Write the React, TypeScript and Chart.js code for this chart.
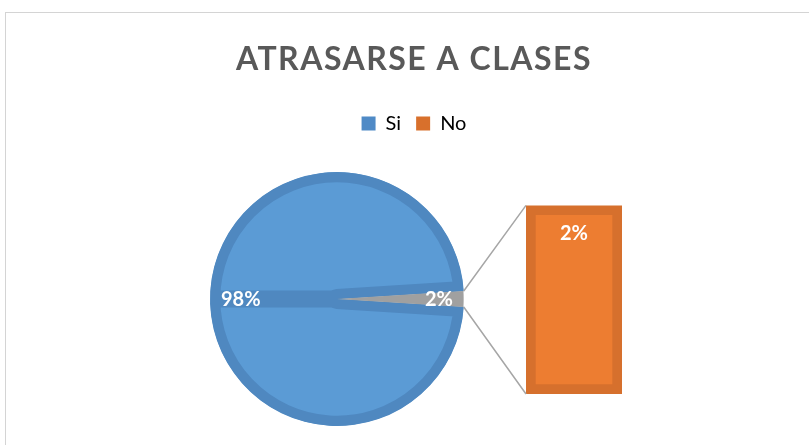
import React, { useEffect, useRef } from 'react';
import { Chart, registerables } from 'chart.js';

Chart.register(...registerables);

// ---- data ----
const TITLE = 'ATRASARSE A CLASES';
const CATEGORIES = ['Si', 'No'];
const VALUES = [98, 2];
// secondary (bar) group of the pie-of-bar: the split-off items
const BAR_ITEMS = ['No'];
const BAR_VALUES = [2];

// ---- styles ----
const FONT = 'Lato';
const TEXT_GRAY = '#595959';
const BLUE = '#5b9bd5';
const BLUE_DARK = '#4f88c0';
const GRAY = '#a0a0a0';
const ORANGE = '#ed7d31';
const ORANGE_DARK = '#d6702d';
const LEGEND_COLORS = ['#4f8ac6', '#d8702c'];
const CONNECTOR = '#a6a6a6';

const W = 809;
const H = 445;

const total = VALUES.reduce((a, b) => a + b, 0);
const barTotal = BAR_VALUES.reduce((a, b) => a + b, 0);
const pct = (v: number) => Math.round((v / total) * 100) + '%';

export default function App() {
  const pieCanvas = useRef<HTMLCanvasElement | null>(null);
  const barCanvas = useRef<HTMLCanvasElement | null>(null);

  useEffect(() => {
    if (!pieCanvas.current || !barCanvas.current) return;

    const otherFrac = barTotal / total;
    const pieDecor = {
      id: 'pieDecor',
      afterDatasetsDraw(chart: any) {
        const ctx = chart.ctx;
        const arcs = chart.getDatasetMeta(0).data;
        const other = arcs[1];
        const { x, y, outerRadius, startAngle, endAngle } = other.getProps(
          ['x', 'y', 'outerRadius', 'startAngle', 'endAngle'],
          true
        );
        ctx.save();
        // darker strip opposite the split-off wedge (Excel border artefact)
        const opp = (startAngle + endAngle) / 2 + Math.PI;
        ctx.strokeStyle = BLUE_DARK;
        ctx.lineWidth = 17;
        ctx.lineCap = 'butt';
        ctx.beginPath();
        ctx.moveTo(x, y);
        ctx.lineTo(x + Math.cos(opp) * (outerRadius - 10), y + Math.sin(opp) * (outerRadius - 10));
        ctx.stroke();
        // data labels
        ctx.fillStyle = '#ffffff';
        ctx.font = `bold 20px ${FONT}`;
        ctx.textBaseline = 'middle';
        arcs.forEach((arc: any, i: number) => {
          const p = arc.getProps(['x', 'y', 'outerRadius', 'startAngle', 'endAngle'], true);
          const mid = (p.startAngle + p.endAngle) / 2;
          const r = p.outerRadius - 11;
          const c = Math.cos(mid);
          ctx.textAlign = c < 0 ? 'left' : 'right';
          ctx.fillText(pct(VALUES[i]), p.x + c * r, p.y + Math.sin(mid) * r + 1);
        });
        ctx.restore();
      },
    };

    const pie = new Chart(pieCanvas.current, {
      type: 'pie',
      data: {
        labels: CATEGORIES,
        datasets: [
          {
            data: VALUES,
            backgroundColor: [BLUE, GRAY],
            borderColor: [BLUE_DARK, GRAY],
            borderWidth: [10, 0],
            borderAlign: 'inner',
          },
        ],
      },
      options: {
        responsive: false,
        animation: false,
        events: [],
        rotation: 90 + otherFrac * 180,
        layout: { padding: { left: 210, right: 345, top: 172, bottom: 19 } },
        plugins: {
          legend: { display: false },
          title: { display: false },
          tooltip: { enabled: false },
        },
      },
      plugins: [pieDecor],
    } as any);

    const barDecor = {
      id: 'barDecor',
      afterDatasetsDraw(chart: any) {
        const ctx = chart.ctx;
        ctx.save();
        const bar = chart.getDatasetMeta(0).data[0];
        const { x, y, base, width } = bar.getProps(['x', 'y', 'base', 'width'], true);
        const left = x - width / 2;
        const arc = pie.getDatasetMeta(0).data[1] as any;
        const a = arc.getProps(['x', 'y', 'outerRadius', 'startAngle', 'endAngle'], true);
        ctx.strokeStyle = CONNECTOR;
        ctx.lineWidth = 1.5;
        ctx.beginPath();
        ctx.moveTo(a.x + a.outerRadius * Math.cos(a.startAngle), a.y + a.outerRadius * Math.sin(a.startAngle));
        ctx.lineTo(left, y);
        ctx.moveTo(a.x + a.outerRadius * Math.cos(a.endAngle), a.y + a.outerRadius * Math.sin(a.endAngle));
        ctx.lineTo(left, base);
        ctx.stroke();
        ctx.fillStyle = '#ffffff';
        ctx.font = `bold 20px ${FONT}`;
        ctx.textAlign = 'center';
        ctx.textBaseline = 'middle';
        ctx.fillText(pct(BAR_VALUES[0]), x, y + 28);
        ctx.restore();
      },
    };

    const bar = new Chart(barCanvas.current, {
      type: 'bar',
      data: {
        labels: BAR_ITEMS,
        datasets: [
          {
            data: BAR_VALUES,
            backgroundColor: ORANGE,
            borderColor: ORANGE_DARK,
            borderWidth: 10,
            borderSkipped: false,
            barPercentage: 1,
            categoryPercentage: 1,
          },
        ],
      },
      options: {
        responsive: false,
        animation: false,
        events: [],
        layout: { padding: { left: 206, right: 187, top: 0, bottom: 51 } },
        scales: {
          x: {
            position: 'top',
            grid: { display: false },
            ticks: { display: false },
            border: { display: false },
            afterFit: (s: any) => {
              s.height = 62;
            },
          },
          y: {
            min: 0,
            max: barTotal,
            grid: { display: false },
            ticks: { display: false },
            border: { display: false },
            afterFit: (s: any) => {
              s.width = 320;
            },
          },
        },
        plugins: {
          title: {
            display: true,
            text: TITLE,
            color: TEXT_GRAY,
            font: { family: FONT, size: 32, weight: 'bold' },
            padding: { top: 40, bottom: 20 },
          },
          legend: {
            display: true,
            position: 'top',
            labels: {
              color: TEXT_GRAY,
              font: { family: FONT, size: 20 },
              boxWidth: 14,
              boxHeight: 14,
              padding: 15,
              generateLabels: () =>
                CATEGORIES.map((c, i) => ({
                  text: c,
                  fillStyle: LEGEND_COLORS[i],
                  strokeStyle: LEGEND_COLORS[i],
                  lineWidth: 0,
                  hidden: false,
                  index: i,
                  datasetIndex: 0,
                })),
            },
          },
          tooltip: { enabled: false },
        },
      },
      plugins: [barDecor],
    } as any);

    // Excel's title uses wider character spacing: apply it to the title only
    const tb = (bar as any).titleBlock;
    if (tb) {
      const orig = tb.draw.bind(tb);
      tb.draw = (area: any) => {
        const c = bar.ctx as any;
        c.save();
        c.letterSpacing = '1.5px';
        orig(area);
        c.restore();
      };
      bar.draw();
    }

    return () => {
      bar.destroy();
      pie.destroy();
    };
  }, []);

  const layer: React.CSSProperties = { position: 'absolute', left: 0, top: 0, width: W, height: H };

  return (
    <div style={{ position: 'absolute', left: 0, top: 0, width: W, height: H, overflow: 'hidden', background: '#ffffff' }}>
      <div
        style={{
          position: 'absolute',
          left: 5,
          top: 12,
          width: W + 20,
          height: H + 20,
          border: '1px solid #d4d4d4',
          boxSizing: 'border-box',
        }}
      />
      <canvas ref={pieCanvas} width={W} height={H} style={layer} />
      <canvas ref={barCanvas} width={W} height={H} style={layer} />
    </div>
  );
}
